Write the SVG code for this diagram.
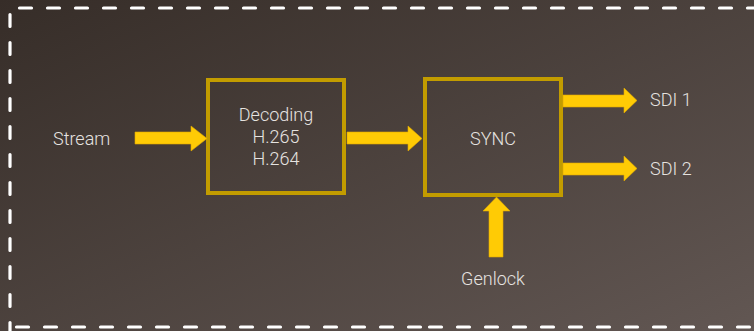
<svg xmlns="http://www.w3.org/2000/svg" width="754" height="331" viewBox="0 0 754 331">
<defs>
<linearGradient id="bg" x1="0" y1="0" x2="1" y2="1">
<stop offset="0" stop-color="#362d28"/>
<stop offset="1" stop-color="#625753"/>
</linearGradient>
<style>
.box{fill:none;stroke:#c29c00;stroke-width:4}
.arr{fill:#ffcb05;stroke:#e0aa00;stroke-width:0.6}
.dash{stroke:#ffffff;stroke-width:3.2;stroke-linecap:round;stroke-dasharray:12 16;fill:none}
.t{font-family:Roboto,"Liberation Sans",sans-serif;font-weight:300;font-size:18px;fill:#e6e3e0}
</style>
</defs>
<rect width="754" height="331" fill="url(#bg)"/>
<g id="frame">
<line class="dash" x1="19.5" y1="8" x2="760" y2="8"/>
<line class="dash" x1="10" y1="14.5" x2="10" y2="340"/>
<line class="dash" x1="429.5" y1="327" x2="760" y2="327" style="stroke-dashoffset:0"/>
<line class="dash" x1="16.5" y1="327" x2="429.5" y2="327" style="stroke-dashoffset:0"/>
</g>
<g id="decoding">
<rect class="box" x="208" y="80" width="136" height="113"/>
<text class="t" x="276" y="121" text-anchor="middle">Decoding</text>
<text class="t" x="276" y="143" text-anchor="middle">H.265</text>
<text class="t" x="276" y="165" text-anchor="middle">H.264</text>
</g>
<g id="sync">
<rect class="box" x="425" y="79" width="136" height="116"/>
<text class="t" x="493" y="145" text-anchor="middle">SYNC</text>
</g>
<g id="stream"><text class="t" x="53" y="145">Stream</text></g>
<g id="sdi1"><text class="t" x="650" y="106">SDI 1</text></g>
<g id="sdi2"><text class="t" x="650" y="175">SDI 2</text></g>
<g id="genlock"><text class="t" x="493" y="285" text-anchor="middle">Genlock</text></g>
<g id="connectors">
<polygon class="arr" points="135,132 191,132 191,126 207,138.5 191,151 191,144 135,144"/>
<polygon class="arr" points="347,132 408,132 408,126 422,138.5 408,151 408,144 347,144"/>
<polygon class="arr" points="563,95 624,95 624,88 637,100.5 624,113 624,107 563,107"/>
<polygon class="arr" points="563,163 624,163 624,156 637,168.5 624,181 624,175 563,175"/>
<polygon class="arr" points="489,257 489,211 483,211 496.5,197 510,211 503,211 503,257"/>
</g>
</svg>
